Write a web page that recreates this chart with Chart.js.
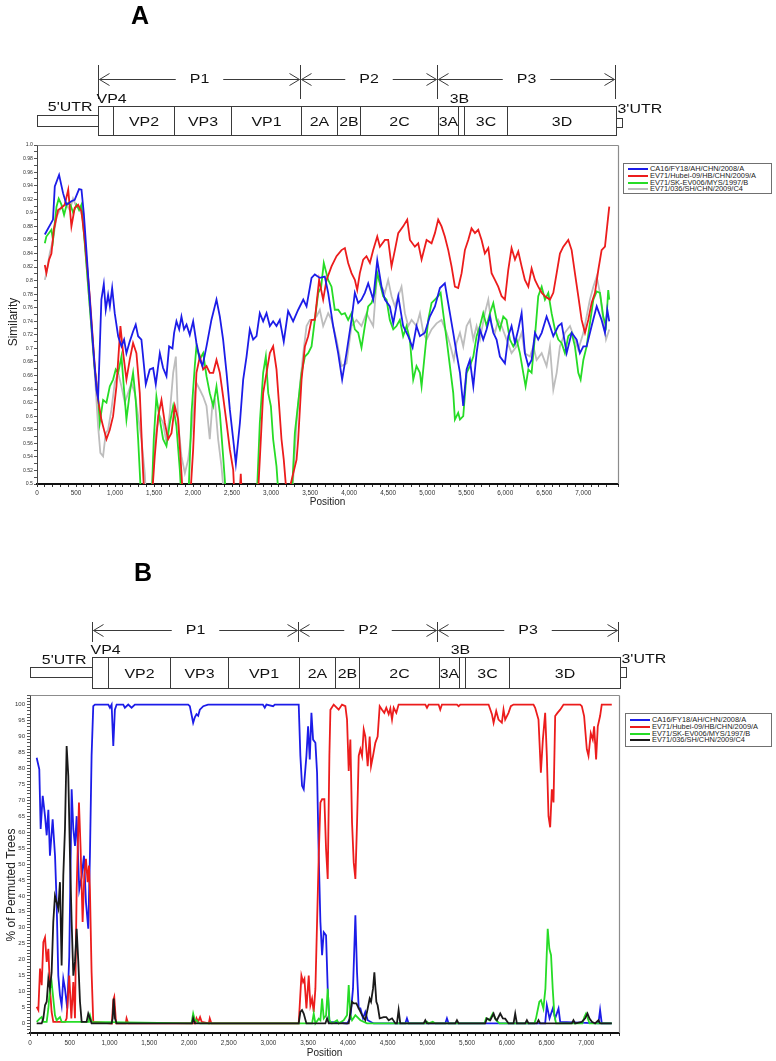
<!DOCTYPE html>
<html>
<head>
<meta charset="utf-8">
<title>Similarity plot and bootscan</title>
<script src="https://cdn.jsdelivr.net/npm/chart.js@4.4.1/dist/chart.umd.min.js"></script>
<style>
  html, body { margin: 0; padding: 0; background: #fff; }
  body { position: relative; width: 776px; height: 1061px; overflow: hidden; font-family: "Liberation Sans", Arial, sans-serif; }
  canvas { position: absolute; left: 0; }
  .legend { position: absolute; box-sizing: border-box; border: 1px solid #707070; background: #fff;
            padding: 2px 0 0 4px; font-size: 7.4px; line-height: 6.8px; color: #222; white-space: nowrap; }
  .legend .sw { display: inline-block; width: 20px; height: 2px; margin-right: 2px; vertical-align: middle; }
</style>
</head>
<body>
<canvas id="chartA" width="776" height="515" style="top:0"></canvas>
<canvas id="chartB" width="776" height="511" style="top:550px"></canvas>
<div class="legend" id="legendA" style="left:623px;top:163px;width:149px;height:31px"></div>
<div class="legend" id="legendB" style="left:625px;top:713px;width:147px;height:34px;padding-top:3px"></div>
<script>
// query strains (same order in both panels)
const strains = ['CA16/FY18/AH/CHN/2008/A', 'EV71/Hubei-09/HB/CHN/2009/A', 'EV71/SK-EV006/MYS/1997/B', 'EV71/036/SH/CHN/2009/C4'];

// genome map, nucleotide positions
const geneNames  = ['VP4', 'VP2', 'VP3', 'VP1', '2A', '2B', '2C', '3A', '3B', '3C', '3D'];
const geneStarts = [776, 976, 1756, 2492, 3389, 3841, 4134, 5140, 5394, 5470, 6025];
const genomeEnd = 7421;
const utr3End = 7495;
const polyNames  = ['P1', 'P2', 'P3'];
const polyBounds = [776, 3376, 5127, 7402];

// panel A: similarity
const aPosCA16 = [100, 205, 228, 283, 334, 377, 441, 483, 539, 570,
  600, 633, 676, 719, 762, 783, 825, 856, 881, 911,
  934, 963, 996, 1040, 1082, 1116, 1146, 1188, 1231, 1265,
  1296, 1338, 1394, 1445, 1488, 1522, 1574, 1616, 1659, 1693,
  1736, 1757, 1787, 1822, 1851, 1884, 1916, 1958, 2001, 2043,
  2087, 2121, 2172, 2235, 2300, 2343, 2385, 2429, 2471, 2514,
  2548, 2600, 2642, 2685, 2727, 2770, 2813, 2855, 2898, 2941,
  2984, 3026, 3069, 3111, 3162, 3218, 3282, 3347, 3412, 3454,
  3518, 3560, 3624, 3688, 3731, 3795, 3859, 3910, 3966, 4030,
  4073, 4116, 4158, 4201, 4244, 4308, 4360, 4415, 4458, 4521,
  4565, 4629, 4692, 4757, 4813, 4863, 4907, 4970, 5034, 5099,
  5163, 5226, 5291, 5334, 5376, 5420, 5462, 5505, 5547, 5591,
  5633, 5676, 5718, 5761, 5804, 5847, 5889, 5932, 5996, 6039,
  6081, 6125, 6167, 6210, 6252, 6296, 6338, 6381, 6423, 6467,
  6530, 6573, 6616, 6680, 6722, 6787, 6851, 6915, 6957, 7001,
  7043, 7107, 7172, 7235, 7278, 7308, 7333];
const aSimCA16 = [0.868, 0.89, 0.939, 0.956, 0.929, 0.912, 0.917, 0.919, 0.935, 0.934,
  0.899, 0.845, 0.772, 0.703, 0.639, 0.627, 0.772, 0.795, 0.757, 0.779,
  0.762, 0.789, 0.752, 0.718, 0.703, 0.713, 0.693, 0.710, 0.725, 0.735,
  0.718, 0.713, 0.647, 0.669, 0.671, 0.647, 0.693, 0.671, 0.659, 0.703,
  0.700, 0.723, 0.740, 0.728, 0.747, 0.728, 0.735, 0.720, 0.740, 0.708,
  0.684, 0.674, 0.703, 0.742, 0.772, 0.747, 0.713, 0.664, 0.610, 0.566,
  0.530, 0.590, 0.654, 0.688, 0.728, 0.713, 0.718, 0.752, 0.740, 0.752,
  0.733, 0.740, 0.733, 0.742, 0.710, 0.755, 0.740, 0.757, 0.772, 0.762,
  0.804, 0.809, 0.804, 0.806, 0.782, 0.733, 0.693, 0.654, 0.693, 0.742,
  0.782, 0.767, 0.772, 0.782, 0.796, 0.772, 0.830, 0.791, 0.772, 0.762,
  0.737, 0.777, 0.733, 0.718, 0.701, 0.733, 0.718, 0.723, 0.747, 0.762,
  0.789, 0.796, 0.752, 0.723, 0.693, 0.664, 0.615, 0.669, 0.683, 0.644,
  0.693, 0.728, 0.713, 0.728, 0.747, 0.723, 0.713, 0.688, 0.678, 0.718,
  0.733, 0.708, 0.728, 0.752, 0.693, 0.674, 0.683, 0.723, 0.713, 0.723,
  0.747, 0.733, 0.718, 0.733, 0.737, 0.693, 0.723, 0.713, 0.693, 0.703,
  0.703, 0.733, 0.762, 0.742, 0.723, 0.757, 0.740];

const aPosHubei = [100, 120, 155, 185, 215, 270, 310, 355, 400, 441,
  483, 527, 570, 612, 676, 740, 783, 825, 847, 890,
  933, 975, 1018, 1052, 1069, 1104, 1146, 1188, 1231, 1274,
  1317, 1360, 1380, 1467, 1509, 1553, 1595, 1638, 1680, 1723,
  1766, 1809, 1851, 1875, 1958, 2001, 2043, 2087, 2129, 2172,
  2214, 2258, 2300, 2343, 2385, 2429, 2471, 2514, 2535, 2590,
  2611, 2630, 2825, 2855, 2898, 2941, 2984, 3026, 3069, 3103,
  3133, 3162, 3195, 3240, 3326, 3347, 3390, 3433, 3475, 3518,
  3560, 3615, 3667, 3710, 3774, 3838, 3902, 3945, 3987, 4030,
  4073, 4103, 4137, 4180, 4222, 4266, 4308, 4360, 4394, 4458,
  4500, 4543, 4586, 4629, 4692, 4744, 4779, 4842, 4885, 4928,
  4992, 5056, 5099, 5141, 5184, 5226, 5270, 5312, 5355, 5397,
  5441, 5483, 5526, 5568, 5612, 5654, 5697, 5739, 5783, 5825,
  5868, 5910, 5954, 5996, 6039, 6081, 6125, 6167, 6210, 6252,
  6296, 6338, 6381, 6423, 6467, 6509, 6573, 6616, 6659, 6701,
  6744, 6808, 6851, 6893, 6936, 6979, 7022, 7064, 7107, 7150,
  7193, 7235, 7278, 7333];
const aSimHubei = [0.823, 0.811, 0.831, 0.84, 0.875, 0.904, 0.907, 0.912, 0.934, 0.880,
  0.907, 0.912, 0.902, 0.860, 0.777, 0.674, 0.624, 0.595, 0.585, 0.566,
  0.580, 0.600, 0.644, 0.703, 0.733, 0.693, 0.654, 0.683, 0.708, 0.693,
  0.634, 0.516, 0.47, 0.47, 0.541, 0.600, 0.624, 0.590, 0.566, 0.575,
  0.615, 0.595, 0.516, 0.47, 0.47, 0.551, 0.664, 0.688, 0.669, 0.674,
  0.664, 0.664, 0.683, 0.664, 0.629, 0.590, 0.551, 0.521, 0.47, 0.47,
  0.515, 0.47, 0.47, 0.536, 0.634, 0.664, 0.693, 0.703, 0.669, 0.615,
  0.566, 0.536, 0.49, 0.495, 0.536, 0.566, 0.654, 0.703, 0.718, 0.742,
  0.742, 0.801, 0.772, 0.801, 0.821, 0.836, 0.845, 0.848, 0.826, 0.811,
  0.801, 0.786, 0.811, 0.831, 0.836, 0.826, 0.845, 0.865, 0.850, 0.860,
  0.860, 0.821, 0.845, 0.870, 0.880, 0.890, 0.860, 0.850, 0.855, 0.831,
  0.860, 0.855, 0.870, 0.890, 0.880, 0.865, 0.845, 0.821, 0.791, 0.789,
  0.811, 0.845, 0.860, 0.877, 0.870, 0.875, 0.860, 0.840, 0.848, 0.811,
  0.801, 0.791, 0.777, 0.772, 0.816, 0.848, 0.831, 0.843, 0.821, 0.801,
  0.791, 0.818, 0.801, 0.791, 0.782, 0.777, 0.772, 0.782, 0.811, 0.840,
  0.850, 0.860, 0.845, 0.811, 0.777, 0.742, 0.723, 0.742, 0.767, 0.782,
  0.816, 0.845, 0.850, 0.909];

const aPosMYS = [100, 120, 185, 205, 250, 278, 313, 347, 385, 428,
  463, 506, 539, 570, 612, 676, 740, 783, 804, 847,
  890, 933, 975, 1009, 1040, 1082, 1112, 1146, 1188, 1231,
  1265, 1296, 1338, 1467, 1496, 1530, 1574, 1616, 1659, 1702,
  1745, 1787, 1830, 1855, 1937, 1980, 2022, 2043, 2087, 2129,
  2172, 2214, 2258, 2300, 2343, 2385, 2429, 2813, 2855, 2898,
  2932, 2963, 2997, 3026, 3069, 3103, 3260, 3304, 3347, 3390,
  3433, 3475, 3518, 3560, 3604, 3640, 3675, 3731, 3774, 3816,
  3859, 3902, 3945, 3987, 4030, 4073, 4116, 4158, 4201, 4244,
  4287, 4329, 4360, 4394, 4436, 4479, 4521, 4565, 4607, 4650,
  4692, 4736, 4778, 4821, 4863, 4907, 4928, 4970, 5013, 5056,
  5099, 5141, 5172, 5205, 5249, 5291, 5334, 5355, 5397, 5420,
  5462, 5505, 5547, 5591, 5633, 5676, 5718, 5761, 5804, 5847,
  5889, 5932, 5975, 6017, 6060, 6103, 6146, 6188, 6231, 6261,
  6296, 6338, 6381, 6423, 6467, 6509, 6552, 6594, 6637, 6680,
  6722, 6765, 6808, 6851, 6893, 6936, 6966, 7001, 7043, 7085,
  7129, 7172, 7214, 7256, 7291, 7320, 7333];
const aSimMYS = [0.855, 0.865, 0.875, 0.860, 0.909, 0.921, 0.912, 0.897, 0.914, 0.912,
  0.9, 0.912, 0.904, 0.912, 0.855, 0.762, 0.669, 0.629, 0.590, 0.624,
  0.620, 0.644, 0.654, 0.669, 0.664, 0.688, 0.644, 0.595, 0.634, 0.664,
  0.624, 0.566, 0.47, 0.47, 0.566, 0.629, 0.595, 0.566, 0.556, 0.590,
  0.615, 0.585, 0.521, 0.47, 0.47, 0.605, 0.674, 0.703, 0.684, 0.693,
  0.659, 0.634, 0.615, 0.644, 0.605, 0.541, 0.47, 0.47, 0.590, 0.664,
  0.688, 0.634, 0.615, 0.566, 0.526, 0.47, 0.47, 0.575, 0.620, 0.664,
  0.688, 0.693, 0.703, 0.742, 0.782, 0.790, 0.826, 0.801, 0.791, 0.757,
  0.757, 0.750, 0.752, 0.742, 0.752, 0.728, 0.723, 0.701, 0.733, 0.762,
  0.767, 0.782, 0.811, 0.796, 0.777, 0.772, 0.742, 0.728, 0.733, 0.742,
  0.718, 0.733, 0.713, 0.654, 0.674, 0.664, 0.644, 0.693, 0.742, 0.767,
  0.772, 0.777, 0.782, 0.752, 0.713, 0.674, 0.634, 0.595, 0.605, 0.595,
  0.600, 0.664, 0.674, 0.688, 0.718, 0.733, 0.752, 0.733, 0.752, 0.767,
  0.742, 0.728, 0.747, 0.742, 0.713, 0.703, 0.713, 0.693, 0.664, 0.644,
  0.669, 0.664, 0.718, 0.777, 0.791, 0.772, 0.782, 0.752, 0.728, 0.713,
  0.708, 0.693, 0.718, 0.723, 0.703, 0.664, 0.654, 0.683, 0.703, 0.737,
  0.772, 0.784, 0.782, 0.747, 0.733, 0.786, 0.772];

const aPosSH = [100, 120, 163, 205, 250, 313, 377, 420, 462, 506,
  548, 590, 676, 740, 783, 812, 847, 881, 911, 954,
  996, 1040, 1082, 1125, 1167, 1210, 1253, 1296, 1338, 1381,
  1402, 1467, 1496, 1530, 1574, 1616, 1659, 1702, 1745, 1779,
  1809, 1851, 1895, 1937, 1980, 2022, 2043, 2087, 2129, 2172,
  2214, 2249, 2279, 2321, 2364, 2406, 3240, 3282, 3326, 3368,
  3412, 3454, 3497, 3539, 3582, 3624, 3667, 3731, 3774, 3838,
  3902, 3966, 4030, 4094, 4158, 4223, 4266, 4308, 4360, 4394,
  4458, 4500, 4543, 4586, 4629, 4671, 4714, 4757, 4800, 4863,
  4907, 4950, 4992, 5056, 5120, 5184, 5249, 5299, 5342, 5376,
  5420, 5462, 5505, 5547, 5591, 5633, 5676, 5739, 5783, 5825,
  5868, 5910, 5954, 6017, 6081, 6146, 6210, 6252, 6317, 6360,
  6402, 6467, 6530, 6573, 6616, 6659, 6701, 6765, 6830, 6893,
  6936, 7001, 7043, 7085, 7129, 7172, 7214, 7256, 7291, 7333];
const aSimSH = [0.801, 0.811, 0.84, 0.86, 0.894, 0.909, 0.912, 0.904, 0.921, 0.909,
  0.907, 0.890, 0.762, 0.664, 0.585, 0.546, 0.541, 0.575, 0.580, 0.610,
  0.649, 0.664, 0.644, 0.620, 0.634, 0.649, 0.634, 0.600, 0.566, 0.516,
  0.47, 0.47, 0.541, 0.580, 0.600, 0.590, 0.561, 0.605, 0.664, 0.688,
  0.590, 0.541, 0.516, 0.536, 0.575, 0.634, 0.649, 0.639, 0.629, 0.615,
  0.566, 0.620, 0.624, 0.566, 0.526, 0.47, 0.47, 0.506, 0.590, 0.644,
  0.693, 0.733, 0.742, 0.742, 0.747, 0.757, 0.733, 0.752, 0.742, 0.713,
  0.674, 0.678, 0.733, 0.742, 0.733, 0.752, 0.742, 0.733, 0.811, 0.796,
  0.782, 0.801, 0.777, 0.762, 0.777, 0.791, 0.752, 0.733, 0.742, 0.733,
  0.752, 0.723, 0.713, 0.728, 0.737, 0.742, 0.723, 0.703, 0.683, 0.708,
  0.723, 0.703, 0.733, 0.742, 0.713, 0.733, 0.713, 0.752, 0.772, 0.733,
  0.723, 0.742, 0.733, 0.713, 0.693, 0.703, 0.723, 0.693, 0.688, 0.703,
  0.683, 0.693, 0.674, 0.703, 0.639, 0.664, 0.703, 0.723, 0.733, 0.713,
  0.698, 0.723, 0.747, 0.772, 0.791, 0.806, 0.782, 0.742, 0.713, 0.728];

// panel B: % of permuted trees (bootscan)
const bPosCA16 = [84, 117, 134, 160, 189, 210, 231, 251, 285, 315,
  335, 356, 377, 398, 419, 440, 469, 494, 524, 545,
  566, 587, 620, 650, 679, 704, 733, 754, 775, 796,
  817, 985, 1006, 1027, 1048, 1068, 1090, 1173, 1194, 1236,
  1278, 1320, 1990, 2011, 2053, 2074, 2095, 2116, 2137, 2180,
  2240, 2930, 2954, 2975, 3059, 3080, 3381, 3402, 3423, 3444,
  3478, 3499, 3520, 3541, 3562, 3591, 3612, 3633, 3654, 3675,
  3696, 3725, 3746, 3767, 3989, 4031, 4064, 4094, 4115, 4136,
  4157, 4190, 4219, 4249, 4324, 4722, 4743, 4764, 5225, 5246,
  5267, 6482, 6503, 6537, 6578, 6608, 6650, 6671, 7152, 7173,
  7194, 7320];
const bPctCA16 = [83.3, 79.7, 61, 71.4, 65, 59, 67, 52.6, 64, 52.6,
  38, 15, 8.9, 5.7, 14, 10.9, 4.7, 21, 73.4, 61,
  55.7, 65, 42, 46, 52.6, 38, 29.7, 52.6, 84, 99.5,
  100, 100, 99, 100, 87, 98.4, 100, 100, 99, 100,
  99, 100, 100, 99.5, 94.3, 96, 97, 96.5, 98.4, 99.5,
  100, 100, 99, 100, 99.5, 100, 100, 83.9, 74.5, 73.4,
  83.9, 93.2, 82.8, 97.4, 89, 88, 78.6, 52.6, 31.8, 21.4,
  28.6, 27.6, 10.9, 0.5, 0, 1.6, 10.9, 33.9, 16, 4.7,
  4.7, 1.6, 3.6, 1, 0, 0, 1.6, 0, 0, 1.6,
  0, 0, 5.7, 1.6, 4.7, 1.6, 4.7, 0.5, 0, 4.2,
  0, 0];

const bPosHubei = [84, 105, 126, 147, 168, 189, 210, 231, 251, 272,
  293, 440, 461, 494, 520, 545, 566, 587, 616, 637,
  662, 683, 704, 725, 742, 754, 775, 796, 1030, 1048,
  1060, 1083, 1205, 1215, 1236, 2080, 2095, 2116, 2140, 2160,
  2250, 2262, 2283, 3381, 3415, 3436, 3453, 3478, 3507, 3528,
  3549, 3570, 3591, 3612, 3633, 3654, 3675, 3704, 3725, 3746,
  3767, 3780, 3821, 3884, 3926, 3968, 3989, 4010, 4031, 4052,
  4073, 4094, 4115, 4136, 4157, 4178, 4199, 4219, 4249, 4274,
  4291, 4316, 4345, 4374, 4400, 4429, 4458, 4483, 4513, 4534,
  4555, 4576, 4609, 4638, 4974, 4995, 5016, 5141, 5162, 5183,
  5372, 5393, 5414, 5770, 5812, 5833, 5866, 5895, 5937, 5958,
  5979, 6021, 6050, 6084, 6335, 6356, 6398, 6428, 6453, 6482,
  6503, 6524, 6545, 6566, 6587, 6608, 6637, 6671, 6713, 6922,
  6943, 6972, 7006, 7027, 7056, 7081, 7098, 7123, 7144, 7173,
  7194, 7320];
const bPctHubei = [5.2, 4.2, 17.2, 12, 25.5, 27, 19.3, 23.4, 11, 3.6,
  0.5, 0.5, 1.6, 15, 1.6, 13, 1.6, 42, 69.3, 54.7,
  31.8, 46.4, 51.6, 44.3, 49.5, 42, 16, 0.5, 0, 7.3,
  8.3, 0, 0, 1.6, 0, 0, 1.6, 0.5, 2, 0.5,
  0, 1.6, 0, 0, 15, 13, 14, 4.7, 15, 5.7,
  7.8, 3.6, 10.9, 31.8, 52.6, 69.3, 70.3, 70.3, 54.7, 45.3,
  83.9, 98.4, 100, 98.4, 100, 99.5, 95.3, 79.2, 89, 63,
  50.5, 45.3, 63, 83.9, 86, 83.9, 92.2, 90, 80.7, 90,
  80.7, 83.9, 88, 90, 99.5, 98.4, 97.4, 99, 97, 98.8,
  95.3, 99, 97.4, 100, 100, 99, 100, 100, 98.4, 100,
  100, 99.5, 100, 100, 97, 94.3, 98, 95.3, 94.3, 98.4,
  95.3, 97.4, 99.5, 100, 100, 99, 95.3, 78.6, 89, 97.4,
  83.9, 65, 61.5, 73.4, 69.3, 96.4, 97.4, 98.4, 100, 100,
  99.5, 96.4, 86, 83.9, 91, 89, 93.2, 82.8, 93.2, 96.4,
  100, 100];

const bPosMYS = [84, 126, 147, 168, 210, 231, 251, 272, 293, 314,
  335, 377, 398, 733, 742, 754, 775, 2032, 2053, 2074,
  2095, 2116, 2140, 3549, 3570, 3591, 3633, 3654, 3675, 3696,
  3725, 3746, 3767, 3800, 3863, 3884, 3947, 3989, 4010, 4031,
  4052, 4094, 4157, 4240, 4974, 4995, 5016, 5068, 5100, 5718,
  5739, 5781, 5823, 5865, 5907, 6346, 6367, 6409, 6430, 6460,
  6485, 6514, 6535, 6556, 6577, 6598, 6619, 6950, 6975, 6996,
  7040, 7320];
const bPctMYS = [0.5, 1.6, 2, 0.5, 0.5, 4.7, 10.9, 13, 7.8, 2.6,
  1, 2, 0.5, 0.5, 1.6, 2.6, 0.5, 0, 3.1, 1,
  1, 0.3, 0, 0, 3.1, 0, 1.5, 1, 7.8, 1.6,
  2.5, 10.9, 1, 0, 1, 0, 1, 2.6, 12, 2.6,
  1, 2.6, 1, 0, 0, 0.5, 0, 0.5, 0, 0,
  1.6, 1, 3.1, 1, 0, 0, 1.6, 6.8, 7.3, 4.7,
  10.9, 29.7, 23.4, 21.4, 10.9, 2.6, 0, 0, 2, 3.1,
  0, 0];

const bPosSH = [84, 147, 168, 189, 210, 231, 251, 272, 293, 314,
  335, 356, 377, 398, 419, 440, 461, 482, 503, 524,
  545, 566, 587, 608, 629, 650, 712, 733, 754, 775,
  1027, 1040, 1053, 1069, 1090, 2040, 2053, 2074, 3381, 3402,
  3423, 3444, 3478, 3717, 3738, 3759, 4010, 4052, 4073, 4106,
  4136, 4178, 4219, 4249, 4274, 4291, 4316, 4333, 4358, 4374,
  4400, 4450, 4483, 4513, 4555, 4597, 4617, 4638, 4659, 4953,
  4974, 4995, 5351, 5372, 5393, 5728, 5749, 5791, 5833, 5854,
  5875, 5917, 5950, 5979, 6021, 6084, 6105, 6126, 6231, 6252,
  6273, 6377, 6398, 6419, 6817, 6838, 6859, 6943, 6985, 7014,
  7040, 7070, 7110, 7152, 7173, 7320];
const bPctSH = [0, 0, 1.6, 5.7, 6.8, 14, 11, 16, 31.8, 40,
  38, 36, 44.3, 18.2, 46.4, 61, 87, 77.6, 52.6, 31.8,
  15, 19.3, 29.7, 19.3, 6.8, 0.5, 0.5, 3.1, 1.6, 0,
  0, 1.6, 7.8, 1.6, 0, 0, 1.6, 0, 0, 3.6,
  4.2, 3.1, 0, 0, 1.6, 0, 0, 6.8, 6.3, 6.3,
  4.7, 2.6, 1, 4.7, 7.8, 6.8, 10.9, 16, 6.8, 5.7,
  1.6, 2, 2, 1, 1.6, 0, 0, 4.2, 0, 0,
  1, 0, 0, 1, 0, 0, 1.6, 1, 3.1, 1.5,
  1, 3.1, 1.6, 1.5, 0, 0, 3.1, 0, 0, 1,
  0, 0, 1, 0, 0, 1, 0, 0.5, 1.6, 3.1,
  1.5, 0.5, 0, 1, 0, 0];

const colorsA = ['#1c1ce8', '#ec1c1c', '#26dc26', '#bdbdbd'];
const colorsB = ['#1c1ce8', '#ec1c1c', '#26dc26', '#1a1a1a'];
const FONT = '"Liberation Sans", Arial, sans-serif';
const MAP_STRETCH = 1.18; // map lettering in the figure is slightly wide

Chart.defaults.font.family = FONT;
Chart.defaults.color = '#333';

// draws the genome map, panel letter, y title and plot frame
const genomeMap = {
  id: 'genomeMap',
  afterDraw(chart, args, o) {
    const ctx = chart.ctx;
    const xs = chart.scales.x;
    const area = chart.chartArea;
    const px = v => Math.round(xs.getPixelForValue(v)) + 0.5;
    const seg = (x1, y1, x2, y2) => { ctx.beginPath(); ctx.moveTo(x1, y1); ctx.lineTo(x2, y2); ctx.stroke(); };
    const label = (text, x, y, align) => {
      ctx.save();
      ctx.translate(x, y);
      ctx.scale(MAP_STRETCH, 1);
      ctx.textAlign = align;
      ctx.fillText(text, 0, 0);
      ctx.restore();
    };

    ctx.save();
    // top and right edges of the plot frame
    ctx.strokeStyle = '#8c8c8c';
    ctx.lineWidth = 1.2;
    const L = Math.round(area.left) + 0.5, T = Math.round(area.top) + 0.5, R = Math.round(area.right) + 0.5, B = Math.round(area.bottom);
    seg(L, T, R, T);
    seg(R, T, R, B);

    ctx.strokeStyle = '#3a3a3a';
    ctx.lineWidth = 1;
    ctx.fillStyle = '#111';
    ctx.font = '13.5px ' + FONT;
    ctx.textBaseline = 'middle';

    // polyprotein brackets
    polyBounds.forEach(b => seg(px(b), o.bracketTop, px(b), o.bracketBottom));
    polyNames.forEach((name, i) => {
      const a = px(polyBounds[i]) + 1, b = px(polyBounds[i + 1]) - 1, m = (a + b) / 2, y = o.arrowY + 0.5;
      const gap = ctx.measureText(name).width * MAP_STRETCH / 2 + 14;
      seg(a, y, m - gap, y);
      seg(m + gap, y, b, y);
      ctx.beginPath(); ctx.moveTo(a + 10, y - 6); ctx.lineTo(a, y); ctx.lineTo(a + 10, y + 6); ctx.stroke();
      ctx.beginPath(); ctx.moveTo(b - 10, y - 6); ctx.lineTo(b, y); ctx.lineTo(b - 10, y + 6); ctx.stroke();
      label(name, m, o.arrowY, 'center');
    });

    // gene boxes
    const x0 = px(geneStarts[0]), x1 = px(genomeEnd);
    ctx.strokeRect(x0, o.boxTop, x1 - x0, o.boxBottom - o.boxTop);
    geneStarts.slice(1).forEach(s => seg(px(s), o.boxTop, px(s), o.boxBottom));
    ctx.strokeRect(px(0), o.utrTop, x0 - px(0), o.utrBottom - o.utrTop);
    ctx.strokeRect(x1, o.utr3Top, px(utr3End) - x1, o.utr3Bottom - o.utr3Top);

    const midY = (o.boxTop + o.boxBottom) / 2 + 1;
    geneNames.forEach((name, i) => {
      const a = px(geneStarts[i]);
      const b = i + 1 < geneStarts.length ? px(geneStarts[i + 1]) : x1;
      if (name === 'VP4') label(name, a - 2, o.aboveY, 'left');
      else if (name === '3B') label(name, (a + b) / 2 - 2, o.aboveY, 'center');
      else label(name, (a + b) / 2, midY, 'center');
    });
    label("5'UTR", x0 - 6, o.utr5LabelY, 'right');
    label("3'UTR", x1 + 1, o.utr3LabelY, 'left');

    // panel letter
    ctx.font = 'bold 25px ' + FONT;
    ctx.textAlign = 'center';
    ctx.fillStyle = '#000';
    ctx.fillText(o.letter, o.letterX, o.letterY);

    // y axis title
    ctx.translate(o.yTitleX, o.yTitleY);
    ctx.rotate(-Math.PI / 2);
    ctx.font = '12px ' + FONT;
    ctx.fillStyle = '#222';
    ctx.fillText(o.yTitle, 0, 0);
    ctx.restore();
  }
};

function series(pos, val) {
  return pos.map((p, i) => ({ x: p, y: val[i] }));
}

function buildLegend(id, colors) {
  const box = document.getElementById(id);
  strains.forEach((name, i) => {
    const row = document.createElement('div');
    const sw = document.createElement('span');
    sw.className = 'sw';
    sw.style.background = colors[i];
    row.appendChild(sw);
    row.appendChild(document.createTextNode(name));
    box.appendChild(row);
  });
}

const xAxis = (max, height, tickPad, titlePad) => ({
  type: 'linear', min: 0, max,
  afterFit: s => { s.height = height; },
  border: { color: '#111', width: 2 },
  grid: { drawOnChartArea: false, tickLength: 3, color: '#333' },
  ticks: {
    stepSize: 100, autoSkip: false, maxRotation: 0, minRotation: 0, padding: tickPad,
    font: { size: 6.4 }, color: '#333',
    callback: v => (v % 500 === 0 && v <= 7000) ? v.toLocaleString('en-US') : ''
  },
  title: { display: true, text: 'Position', font: { size: 10 }, color: '#222', padding: { top: 0, bottom: titlePad } }
});

// panel A
const dataA = [[aPosCA16, aSimCA16], [aPosHubei, aSimHubei], [aPosMYS, aSimMYS], [aPosSH, aSimSH]];
new Chart(document.getElementById('chartA'), {
  type: 'line',
  data: {
    datasets: dataA.map(([pos, val], i) => ({
      label: strains[i], data: series(pos, val), borderColor: colorsA[i],
      borderWidth: 1.8, pointRadius: 0, fill: false
    }))
  },
  options: {
    responsive: false, animation: false, devicePixelRatio: 1, events: [],
    layout: { padding: { top: 145, right: 158, bottom: 0, left: 0 } },
    plugins: {
      legend: { display: false }, tooltip: { enabled: false },
      genomeMap: {
        letter: 'A', letterX: 140, letterY: 17, yTitle: 'Similarity', yTitleX: 14, yTitleY: 322,
        arrowY: 79, bracketTop: 65, bracketBottom: 99, aboveY: 99,
        boxTop: 106.5, boxBottom: 135.5, utrTop: 115.5, utrBottom: 126.5,
        utr3Top: 118.5, utr3Bottom: 127.5, utr5LabelY: 107, utr3LabelY: 109
      }
    },
    scales: {
      x: xAxis(7445, 31, 2, 7),
      y: {
        min: 0.5, max: 1.0,
        afterFit: s => { s.width = 37; },
        border: { color: '#444', width: 1 },
        grid: { drawOnChartArea: false, tickLength: 3, color: '#555' },
        ticks: {
          stepSize: 0.01, autoSkip: false, padding: 1, font: { size: 5.2 }, color: '#333',
          callback: v => {
            const k = Math.round(v * 100);
            if (k % 2) return '';
            return k === 100 ? '1.0' : String(k / 100);
          }
        }
      }
    }
  },
  plugins: [genomeMap]
});

// panel B
const dataB = [[bPosCA16, bPctCA16], [bPosHubei, bPctHubei], [bPosMYS, bPctMYS], [bPosSH, bPctSH]];
new Chart(document.getElementById('chartB'), {
  type: 'line',
  data: {
    datasets: dataB.map(([pos, val], i) => ({
      label: strains[i], data: series(pos, val), borderColor: colorsB[i],
      borderWidth: 1.8, pointRadius: 0, fill: false, order: 3 - i
    }))
  },
  options: {
    responsive: false, animation: false, devicePixelRatio: 1, events: [],
    layout: { padding: { top: 145, right: 157, bottom: 0, left: 0 } },
    plugins: {
      legend: { display: false }, tooltip: { enabled: false },
      genomeMap: {
        letter: 'B', letterX: 143, letterY: 24, yTitle: '% of Permuted Trees', yTitleX: 12, yTitleY: 335,
        arrowY: 80, bracketTop: 72, bracketBottom: 92, aboveY: 100,
        boxTop: 107.5, boxBottom: 138.5, utrTop: 117.5, utrBottom: 127.5,
        utr3Top: 117.5, utr3Bottom: 127.5, utr5LabelY: 110, utr3LabelY: 109
      }
    },
    scales: {
      x: xAxis(7411, 28, 3, 2),
      y: {
        min: -3, max: 103,
        afterFit: s => { s.width = 30; },
        border: { color: '#444', width: 1 },
        grid: { drawOnChartArea: false, tickLength: 3, color: '#555' },
        ticks: {
          stepSize: 1, autoSkip: false, padding: 2, font: { size: 6 }, color: '#333',
          callback: v => (v >= 0 && v <= 100 && v % 5 === 0) ? String(v) : ''
        }
      }
    }
  },
  plugins: [genomeMap]
});

buildLegend('legendA', colorsA);
buildLegend('legendB', colorsB);
</script>
</body>
</html>
